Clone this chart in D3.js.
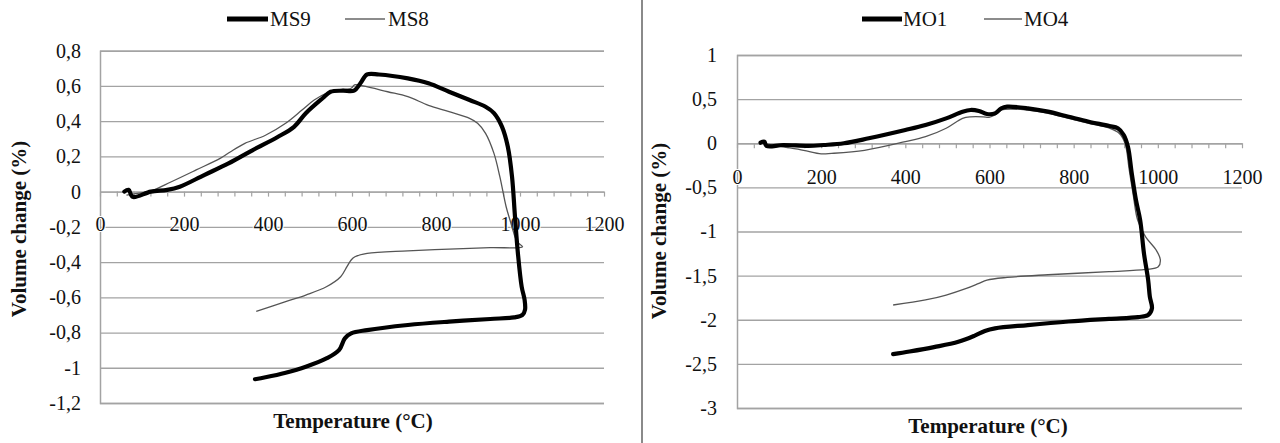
<!DOCTYPE html>
<html>
<head>
<meta charset="utf-8">
<script src="https://cdn.jsdelivr.net/npm/d3@7"></script>
<style>
  body { margin: 0; background: #fff; }
  svg { display: block; }
  svg text { font-family: "Liberation Serif", "Times New Roman", serif !important; fill: #111; }
</style>
</head>
<body>
<svg id="chart" width="1280" height="443"></svg>
<script>
// ---------- DATA ----------
const ms9T = [58,68,78,121,160,190,248,306,364,423,462,490,530,549,578,605,620,636,664,733,782,831,880,918,938,957,971,981,988,995,1004,1011,1012,1006,986,929,831,733,636,598,583,569,539,490,442,394,369];
const ms9V = [0,0.01,-0.03,0,0.01,0.028,0.094,0.16,0.236,0.31,0.368,0.445,0.53,0.567,0.573,0.573,0.615,0.665,0.665,0.643,0.615,0.567,0.52,0.482,0.446,0.369,0.255,0.085,-0.14,-0.35,-0.54,-0.615,-0.67,-0.70,-0.714,-0.723,-0.738,-0.757,-0.786,-0.805,-0.833,-0.9,-0.947,-0.994,-1.028,-1.054,-1.065];

const ms8T = [63,90,121,170,229,287,310,345,394,442,481,510,539,579,598,606,626,685,733,782,831,880,899,918,938,952,967,976,981,988,995,1006,929,831,733,636,607,598,588,573,539,490,442,372];
const ms8V = [-0.02,-0.01,0.003,0.056,0.123,0.19,0.225,0.274,0.32,0.388,0.463,0.52,0.558,0.58,0.587,0.606,0.6,0.567,0.539,0.49,0.454,0.416,0.388,0.331,0.217,0.085,-0.086,-0.16,-0.2,-0.256,-0.29,-0.313,-0.318,-0.326,-0.336,-0.35,-0.37,-0.388,-0.426,-0.483,-0.54,-0.587,-0.625,-0.68];

const mo1T = [56,65,70,110,170,206,254,313,400,448,497,536,555,575,594,613,628,642,691,739,788,836,885,905,919,929,938,948,958,967,977,981,986,977,953,884,788,691,613,589,565,526,468,410,371];
const mo1V = [0.006,0.018,-0.03,-0.02,-0.03,-0.02,0,0.056,0.15,0.207,0.282,0.357,0.377,0.365,0.331,0.339,0.396,0.414,0.396,0.358,0.3,0.244,0.195,0.169,0.093,-0.04,-0.34,-0.643,-0.87,-1.247,-1.55,-1.74,-1.87,-1.946,-1.97,-1.99,-2.02,-2.06,-2.097,-2.127,-2.18,-2.25,-2.31,-2.36,-2.39];

const mo4T = [60,109,158,200,225,303,400,448,497,536,555,585,599,613,628,691,739,788,836,885,908,922,932,942,952,971,996,1006,1001,971,884,739,642,594,575,545,497,448,371];
const mo4V = [0,-0.04,-0.08,-0.12,-0.115,-0.08,0.018,0.074,0.17,0.282,0.3,0.3,0.294,0.32,0.377,0.377,0.339,0.282,0.226,0.17,0.113,0,-0.3,-0.6,-0.87,-1.06,-1.21,-1.32,-1.4,-1.43,-1.455,-1.49,-1.52,-1.55,-1.587,-1.645,-1.72,-1.776,-1.833];

const xTicks = [0,200,400,600,800,1000,1200];
const xTickLabels = ["0","200","400","600","800","1000","1200"];
const xMinorTicks = d3.range(0, 1201, 40);
const leftYTicks = [0.8,0.6,0.4,0.2,0,-0.2,-0.4,-0.6,-0.8,-1,-1.2];
const leftYLabels = ["0,8","0,6","0,4","0,2","0","-0,2","-0,4","-0,6","-0,8","-1","-1,2"];
const rightYTicks = [1,0.5,0,-0.5,-1,-1.5,-2,-2.5,-3];
const rightYLabels = ["1","0,5","0","-0,5","-1","-1,5","-2","-2,5","-3"];
const leftSeriesNames = ["MS9","MS8"];
const rightSeriesNames = ["MO1","MO4"];
const xTitle = "Temperature (°C)";
const yTitle = "Volume change (%)";

// ---------- DRAW ----------
const svg = d3.select("#chart");
const SERIF = '"Liberation Serif", "Times New Roman", serif';
const GRID = "#a3a3a3";
const THICK = {stroke:"#000", width:4.2};
const THIN = {stroke:"#555", width:1.3};

function zip(T, V){ return T.map((t,i)=>({t, v:V[i]})); }

function panel(cfg){
  const g = svg.append("g");
  const x = d3.scaleLinear().domain([0,1200]).range(cfg.xr);
  const y = d3.scaleLinear().domain(cfg.yd).range(cfg.yr);
  const w = cfg.xr[1]-cfg.xr[0];

  // gridlines + y labels
  const yAx = g.append("g").attr("transform",`translate(${cfg.xr[0]},0)`)
    .call(d3.axisLeft(y).tickValues(cfg.yTicks).tickSize(-w).tickPadding(cfg.yPad)
      .tickFormat((d,i)=>cfg.yLabels[i]));
  yAx.attr("font-family",SERIF).attr("font-size",20);
  yAx.select(".domain").attr("stroke",GRID).attr("stroke-width",1.5);
  yAx.selectAll(".tick line").attr("stroke",GRID).attr("stroke-width",1.3);
  yAx.selectAll(".tick text").style("font-family",SERIF).style("font-size","20px").attr("fill","#111");

  // x axis at y=0 with minor ticks
  const x0 = y(0);
  const xAx = g.append("g").attr("transform",`translate(0,${x0})`)
    .call(d3.axisBottom(x).tickValues(xMinorTicks).tickSize(5).tickSizeOuter(0).tickFormat(""));
  xAx.select(".domain").attr("stroke",GRID).attr("stroke-width",1.3);
  xAx.selectAll(".tick line").attr("stroke",GRID).attr("stroke-width",1.2);

  const xLab = g.append("g").attr("transform",`translate(0,${x0})`)
    .call(d3.axisBottom(x).tickValues(xTicks).tickSize(0).tickPadding(cfg.xPad)
      .tickFormat((d,i)=>xTickLabels[i]));
  xLab.attr("font-family",SERIF).attr("font-size",20);
  xLab.select(".domain").remove();
  xLab.selectAll(".tick text").style("font-family",SERIF).style("font-size","20px").attr("fill","#111")
    .attr("stroke","#fff").attr("stroke-width",2).attr("paint-order","stroke");

  // lines
  const line = d3.line().x(d=>x(d.t)).y(d=>y(d.v)).curve(d3.curveCatmullRom.alpha(0.5));
  g.append("path").datum(zip(cfg.thinT,cfg.thinV)).attr("d",line)
    .attr("fill","none").attr("stroke",THIN.stroke).attr("stroke-width",THIN.width)
    .attr("stroke-linejoin","round");
  g.append("path").datum(zip(cfg.thickT,cfg.thickV)).attr("d",line)
    .attr("fill","none").attr("stroke",THICK.stroke).attr("stroke-width",THICK.width)
    .attr("stroke-linejoin","round").attr("stroke-linecap","round");

  // titles
  g.append("text").attr("x",cfg.xTitleX).attr("y",cfg.xTitleY).attr("text-anchor","middle")
    .style("font-size","21px").style("font-weight","bold").text(xTitle);
  g.append("text").attr("transform",`translate(${cfg.yTitleX},${cfg.yTitleY}) rotate(-90)`)
    .attr("text-anchor","middle").attr("dy","0.35em")
    .style("font-size","21px").style("font-weight","bold").text(yTitle);

  // legend
  const lg = g.append("g");
  const items = [
    {name:cfg.names[0], stroke:"#000", width:5, x1:cfg.leg[0], x2:cfg.leg[1], tx:cfg.leg[2]},
    {name:cfg.names[1], stroke:"#666", width:1.6, x1:cfg.leg[3], x2:cfg.leg[4], tx:cfg.leg[5]}
  ];
  items.forEach(it=>{
    lg.append("line").attr("x1",it.x1).attr("x2",it.x2).attr("y1",19).attr("y2",19)
      .attr("stroke",it.stroke).attr("stroke-width",it.width);
    lg.append("text").attr("x",it.tx).attr("y",19).attr("dy","0.35em")
      .style("font-size","21px").text(it.name);
  });
}

panel({
  xr:[100,604], yd:[-1.2,0.8], yr:[403,50.7], yTicks:leftYTicks, yLabels:leftYLabels,
  yPad:19, xPad:25,
  thickT:ms9T, thickV:ms9V, thinT:ms8T, thinV:ms8V,
  xTitleX:353, xTitleY:428, yTitleX:19, yTitleY:229,
  names:leftSeriesNames, leg:[227,268,270,345,385,388]
});

panel({
  xr:[737,1242], yd:[-3,1], yr:[408,55], yTicks:rightYTicks, yLabels:rightYLabels,
  yPad:20, xPad:27,
  thickT:mo1T, thickV:mo1V, thinT:mo4T, thinV:mo4V,
  xTitleX:988, xTitleY:433, yTitleX:659, yTitleY:231,
  names:rightSeriesNames, leg:[862,902,903,984,1022,1024]
});

// divider
svg.append("line").attr("x1",642).attr("x2",642).attr("y1",0).attr("y2",443)
  .attr("stroke","#8a8a8a").attr("stroke-width",2);
</script>
</body>
</html>
